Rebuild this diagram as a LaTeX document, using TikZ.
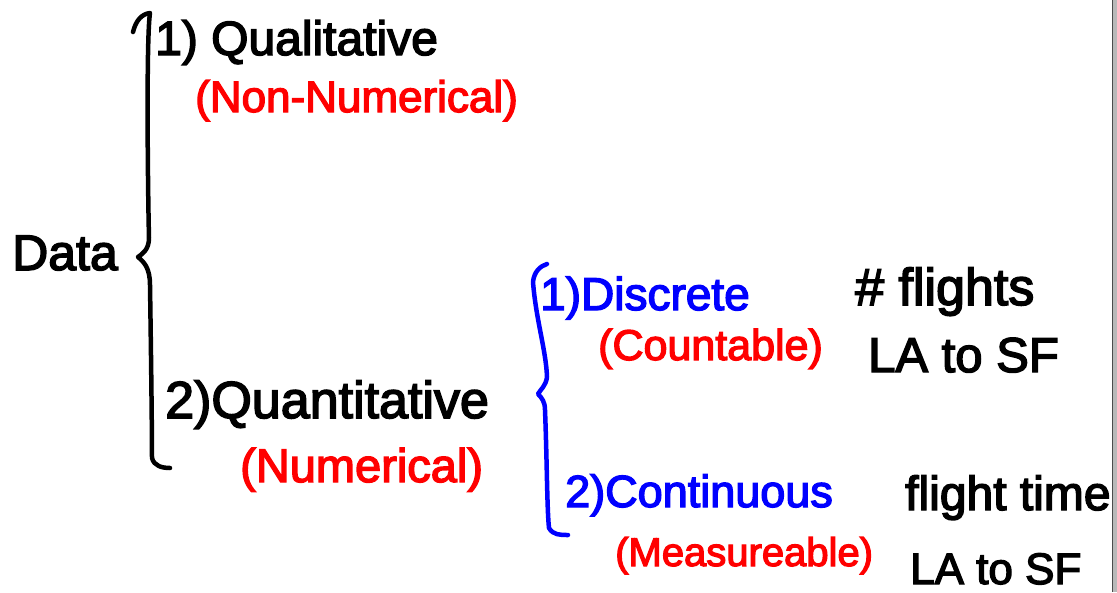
\documentclass[tikz,border=0pt]{standalone}
\usepackage{fontspec}
\setmainfont{Liberation Sans}[FakeBold=3]
\definecolor{inkred}{RGB}{255,0,0}
\definecolor{inkblue}{RGB}{0,0,255}
\begin{document}
\begin{tikzpicture}[x=1pt,y=-1pt,
  lbl/.style={anchor=base west,inner sep=0pt},
  brace/.style={line width=4.5pt,line cap=round,line join=round}]
\useasboundingbox (0,0) rectangle (1117,592);
\fill[white] (0,0) rectangle (1117,592);
\fill[gray!55] (1112,0) rectangle (1117,592);
\draw[line width=1.2pt,black!70] (1112.5,0) -- (1112.5,592);

% black level
\node[lbl,font=\fontsize{50}{50}\selectfont] (data) at (12,270) {Data};
\node[lbl,font=\fontsize{48}{48}\selectfont] (qual) at (155,55) {1) Qualitative};
\node[lbl,font=\fontsize{44}{44}\selectfont,text=inkred] (nonnum) at (195,112) {(Non-Numerical)};
\node[lbl,font=\fontsize{52}{52}\selectfont] (quant) at (165,418) {2)Quantitative};
\node[lbl,font=\fontsize{47}{47}\selectfont,text=inkred] (num) at (240,482) {(Numerical)};

% blue level
\node[lbl,font=\fontsize{46}{46}\selectfont,text=inkblue] (disc) at (540,310) {1)Discrete};
\node[lbl,font=\fontsize{43}{43}\selectfont,text=inkred] (count) at (598,360) {(Countable)};
\node[lbl,font=\fontsize{45}{45}\selectfont,text=inkblue] (cont) at (565,507) {2)Continuous};
\node[lbl,font=\fontsize{40}{40}\selectfont,text=inkred] (meas) at (615,566) {(Measureable)};

% examples
\node[lbl,font=\fontsize{52}{52}\selectfont] (flights) at (855,305) {\# flights};
\node[lbl,font=\fontsize{49}{49}\selectfont] (route1) at (868,372) {LA to SF};
\node[lbl,font=\fontsize{48}{48}\selectfont] (ftime) at (905,510) {flight time};
\node[lbl,font=\fontsize{44}{44}\selectfont] (route2) at (910,584) {LA to SF};

% black brace
\draw[brace] (133,32) .. controls (136,20) and (142,14) .. (150,13)
  .. controls (146,40) and (148,200) .. (149,238)
  .. controls (149,250) and (142,254) .. (138,257)
  .. controls (144,262) and (150,268) .. (150,285)
  .. controls (151,350) and (152,430) .. (152,458)
  .. controls (154,466) and (162,468) .. (170,468);

% blue brace
\draw[brace,inkblue] (547,264) .. controls (540,266) and (534,272) .. (533,282)
  .. controls (536,320) and (546,350) .. (547,377)
  .. controls (546,386) and (540,390) .. (538,394)
  .. controls (542,398) and (545,402) .. (545,410)
  .. controls (547,460) and (547,510) .. (549,528)
  .. controls (553,535) and (560,535) .. (568,535);
\end{tikzpicture}
\end{document}
